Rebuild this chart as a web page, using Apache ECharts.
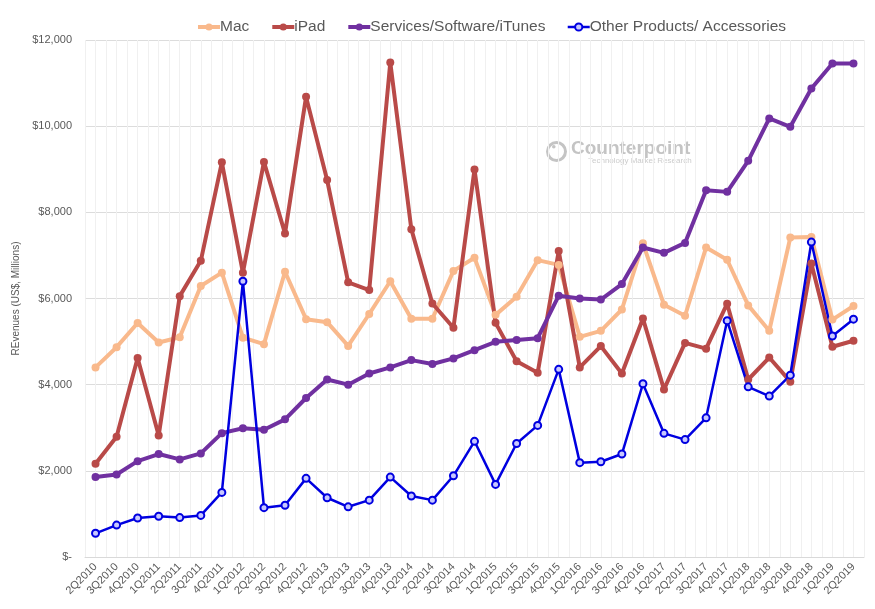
<!DOCTYPE html>
<html>
<head>
<meta charset="utf-8">
<script src="https://cdn.jsdelivr.net/npm/echarts@6/dist/echarts.min.js"></script>
<style>html,body{margin:0;padding:0;background:#fff}#c{width:875px;height:609px}</style>
</head>
<body>
<div id="c"></div>
<script>
var quarters = ['2Q2010','3Q2010','4Q2010','1Q2011','2Q2011','3Q2011','4Q2011','1Q2012','2Q2012','3Q2012','4Q2012','1Q2013','2Q2013','3Q2013','4Q2013','1Q2014','2Q2014','3Q2014','4Q2014','1Q2015','2Q2015','3Q2015','4Q2015','1Q2016','2Q2016','3Q2016','4Q2016','1Q2017','2Q2017','3Q2017','4Q2017','1Q2018','2Q2018','3Q2018','4Q2018','1Q2019','2Q2019'];
var mac = [4400,4870,5430,4980,5100,6290,6600,5090,4940,6620,5520,5450,4900,5640,6400,5530,5530,6640,6945,5620,6040,6890,6780,5110,5250,5745,7280,5855,5600,7185,6900,5840,5250,7415,7430,5510,5825];
var ipad = [2165,2790,4620,2820,6055,6875,9160,6600,9170,7510,10680,8750,6375,6195,11480,7610,5885,5320,8995,5435,4545,4275,7100,4400,4895,4260,5535,3890,4970,4835,5880,4120,4630,4070,6810,4880,5020];
var services = [1855,1915,2225,2390,2265,2405,2875,2990,2955,3195,3690,4120,4000,4260,4400,4570,4480,4610,4800,4995,5035,5080,6065,6000,5975,6335,7185,7060,7290,8515,8475,9195,10180,9985,10875,11455,11455];
var other = [550,740,905,945,915,965,1500,6400,1145,1200,1825,1375,1165,1320,1855,1415,1320,1885,2685,1685,2635,3055,4355,2190,2210,2390,4020,2870,2725,3230,5485,3950,3735,4220,7310,5130,5520];
var yTicks = [0,2000,4000,6000,8000,10000,12000];

var halfBands = [];
for (var k = 0; k < quarters.length * 2; k++) halfBands.push('');

var chart = echarts.init(document.getElementById('c'));
var txt = '#595959';
var colors = {mac: '#F9B98C', ipad: '#B94A48', services: '#7030A0', other: '#0000E0'};
function thick(name, data, color) {
  return {
    name: name, type: 'line', data: data, xAxisIndex: 0,
    symbol: 'circle', symbolSize: 8,
    lineStyle: {color: color, width: 4},
    itemStyle: {color: color},
    emphasis: {disabled: true}
  };
}
chart.setOption({
  animation: false,
  textStyle: {fontFamily: 'Liberation Sans, Arial, sans-serif'},
  legend: {
    top: 14, left: 191,
    itemWidth: 22, itemHeight: 9, itemGap: 21,
    textStyle: {color: txt, fontSize: 15.5, padding: [0,0,0,-5]},
    data: [
      {name: 'Mac', lineStyle: {width: 4}},
      {name: 'iPad', lineStyle: {width: 4}},
      {name: 'Services/Software/iTunes', lineStyle: {width: 4}},
      {name: 'Other Products/ Accessories', lineStyle: {width: 2.5}}
    ]
  },
  grid: {left: 85, right: 11, top: 40, bottom: 52},
  xAxis: [{
    type: 'category', data: quarters, boundaryGap: true,
    axisLine: {lineStyle: {color: '#d9d9d9'}},
    axisTick: {show: false},
    axisLabel: {interval: 0, rotate: 45, color: txt, fontSize: 11, margin: 8},
    splitLine: {show: false}
  }, {
    type: 'category', data: halfBands, boundaryGap: true, position: 'bottom',
    axisLine: {show: false}, axisTick: {show: false}, axisLabel: {show: false},
    splitLine: {show: true, interval: 0, lineStyle: {color: '#f0f0f0', width: 1}}
  }],
  yAxis: {
    type: 'value', min: 0, max: 12000, interval: 2000,
    name: 'REvenues (US$, Millions)', nameLocation: 'middle', nameGap: 43,
    nameTextStyle: {color: txt, fontSize: 10},
    axisLine: {show: false}, axisTick: {show: false},
    axisLabel: {color: txt, fontSize: 11, margin: 13,
      formatter: function (v) { return v === 0 ? '$-' : '$' + v.toLocaleString('en-US'); }},
    splitLine: {lineStyle: {color: '#dcdcdc', width: 1}}
  },
  graphic: [
    {type: 'circle', left: 545, top: 140, shape: {r: 9}, style: {fill: 'none', stroke: '#c4c4c4', lineWidth: 3}, z: 0},
    {type: 'circle', left: 552, top: 145, shape: {r: 1.8}, style: {fill: '#c4c4c4'}, z: 0},
    {type: 'text', left: 571, top: 139, style: {text: 'Counterpoint', fill: '#c4c4c4', font: 'bold 19px "Liberation Sans", sans-serif'}, z: 0},
    {type: 'text', left: 588, top: 157, style: {text: 'Technology Market Research', fill: '#cccccc', font: '8px "Liberation Sans", sans-serif'}, z: 0}
  ],
  series: [
    thick('Mac', mac, colors.mac),
    thick('iPad', ipad, colors.ipad),
    thick('Services/Software/iTunes', services, colors.services),
    {
      name: 'Other Products/ Accessories', type: 'line', data: other, xAxisIndex: 0,
      symbol: 'circle', symbolSize: 7,
      lineStyle: {color: colors.other, width: 2.5},
      itemStyle: {color: '#c8c8ff', borderColor: colors.other, borderWidth: 2},
      emphasis: {disabled: true}
    }
  ]
});
</script>
</body>
</html>
